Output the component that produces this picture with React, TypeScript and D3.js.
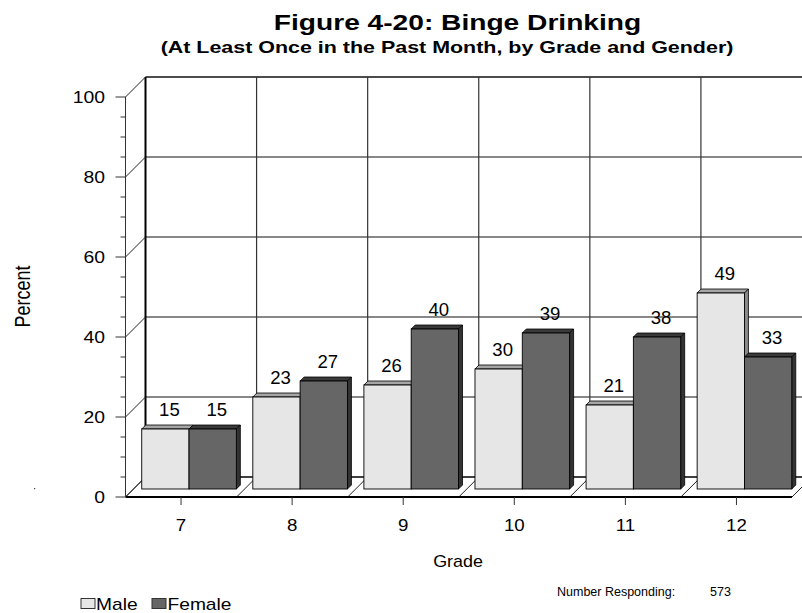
import React from "react";
import * as d3 from "d3";

const grades = ["7", "8", "9", "10", "11", "12"];
const genders = ["Male", "Female"];
const maleValues = [15, 23, 26, 30, 21, 49];
const femaleValues = [15, 27, 40, 39, 38, 33];
const yTicks = [0, 20, 40, 60, 80, 100];
const minorTicks = d3.range(0, 101, 5);

const W = 802;
const H = 613;
const DEPTH = 20; // wall depth offset
const OFF = 8; // bars' offset into the depth
const BD = 4; // bar depth
const FONT = "'Liberation Sans', Arial, sans-serif";

const colors: Record<string, { front: string; top: string; side: string }> = {
  Male: { front: "#e6e6e6", top: "#a6a6a6", side: "#8a8a8a" },
  Female: { front: "#666666", top: "#3a3a3a", side: "#333333" },
};

function SText(props: {
  x: number;
  y: number;
  sx?: number;
  sy?: number;
  rotate?: number;
  anchor?: "start" | "middle" | "end";
  size: number;
  weight?: string;
  children: React.ReactNode;
}) {
  const { x, y, sx = 1, sy = 1, rotate, anchor = "start", size, weight = "normal", children } = props;
  const t = `translate(${x},${y})${rotate ? ` rotate(${rotate})` : ""} scale(${sx},${sy})`;
  return (
    <text transform={t} textAnchor={anchor} fontSize={size} fontWeight={weight} fill="#000">
      {children}
    </text>
  );
}

export default function App() {
  const x = d3.scaleBand<string>().domain(grades).range([125.5, 792]).padding(0);
  const xs = d3
    .scaleBand<string>()
    .domain(genders)
    .range([0, x.bandwidth()])
    .paddingInner(0)
    .paddingOuter(0.174);
  const y = d3.scaleLinear().domain([0, 100]).range([497, 97]);

  const left = x.range()[0];
  const right = x.range()[1];
  const y0 = y(0);
  const y100 = y(100);
  const boundaries = grades.map((g) => x(g)!).concat([right]);

  const data = grades.map((g, i) => ({
    grade: g,
    vals: [
      { gender: "Male", v: maleValues[i] },
      { gender: "Female", v: femaleValues[i] },
    ],
  }));

  const w = xs.bandwidth();

  return (
    <svg
      width={W}
      height={H}
      style={{ position: "absolute", left: 0, top: 0, background: "#fff" }}
      fontFamily={FONT}
    >
      <rect x={0} y={0} width={W} height={H} fill="#fff" />
      {/* Titles */}
      <SText x={457.5} y={30} sx={1.28} anchor="middle" size={22} weight="bold">
        Figure 4-20: Binge Drinking
      </SText>
      <SText x={447} y={53} sx={1.34} anchor="middle" size={16} weight="bold">
        (At Least Once in the Past Month, by Grade and Gender)
      </SText>

      {/* back wall gridlines */}
      {yTicks.slice(1).map((t) => (
        <line
          key={"hg" + t}
          x1={left + DEPTH}
          x2={right + DEPTH}
          y1={y(t) - DEPTH}
          y2={y(t) - DEPTH}
          stroke="#111"
          strokeWidth={t === 100 ? 1.6 : 1.2}
        />
      ))}
      {boundaries.slice(1, -1).map((b, i) => (
        <line
          key={"vg" + i}
          x1={b + DEPTH}
          x2={b + DEPTH}
          y1={y100 - DEPTH}
          y2={y0 - DEPTH}
          stroke="#333"
          strokeWidth={1.2}
        />
      ))}
      {/* back wall left edge */}
      <line x1={left + DEPTH} x2={left + DEPTH} y1={y100 - DEPTH} y2={y0 - DEPTH} stroke="#000" strokeWidth={2} />
      {/* left wall diagonals */}
      {yTicks.map((t) => (
        <line
          key={"ld" + t}
          x1={left}
          y1={y(t)}
          x2={left + DEPTH}
          y2={y(t) - DEPTH}
          stroke="#222"
          strokeWidth={1}
        />
      ))}
      {/* floor */}
      <line x1={left + DEPTH} x2={right + DEPTH} y1={y0 - DEPTH} y2={y0 - DEPTH} stroke="#000" strokeWidth={1.4} />
      {boundaries.map((b, i) => (
        <line key={"fd" + i} x1={b} y1={y0} x2={b + DEPTH} y2={y0 - DEPTH} stroke="#222" strokeWidth={1} />
      ))}

      {/* bars */}
      {data.map((d) => (
        <g key={d.grade}>
          {d.vals.map((b) => {
            const x0 = x(d.grade)! + xs(b.gender)! + OFF;
            const yB = y0 - OFF;
            const yT = y(b.v) - OFF;
            const c = colors[b.gender];
            return (
              <g key={b.gender}>
                <polygon
                  points={`${x0},${yT} ${x0 + BD},${yT - BD} ${x0 + w + BD},${yT - BD} ${x0 + w},${yT}`}
                  fill={c.top}
                  stroke="#000"
                  strokeWidth={0.8}
                  strokeLinejoin="round"
                />
                <polygon
                  points={`${x0 + w},${yT} ${x0 + w + BD},${yT - BD} ${x0 + w + BD},${yB - BD} ${x0 + w},${yB}`}
                  fill={c.side}
                  stroke="#000"
                  strokeWidth={0.8}
                  strokeLinejoin="round"
                />
                <rect x={x0} y={yT} width={w} height={yB - yT} fill={c.front} stroke="#000" strokeWidth={0.9} />
              </g>
            );
          })}
        </g>
      ))}

      {/* front floor line */}
      <line x1={left} x2={right} y1={y0} y2={y0} stroke="#000" strokeWidth={2} />
      {/* front left axis */}
      <line x1={left} x2={left} y1={y100} y2={y0} stroke="#333" strokeWidth={1} />
      {minorTicks.map((t) => (
        <line
          key={"mt" + t}
          x1={t % 20 === 0 ? left - 10 : left - 5}
          x2={left}
          y1={y(t)}
          y2={y(t)}
          stroke="#333"
          strokeWidth={1}
        />
      ))}
      {yTicks.map((t) => (
        <SText key={"yl" + t} x={105} y={y(t) + 6} sx={1.14} anchor="end" size={17}>
          {t}
        </SText>
      ))}

      {/* x ticks */}
      {grades.map((g) => {
        const cx = x(g)! + x.bandwidth() / 2;
        return (
          <g key={"xt" + g}>
            <line x1={cx} x2={cx} y1={y0} y2={y0 + 8} stroke="#333" strokeWidth={1} />
            <SText x={cx} y={531} sx={1.1} anchor="middle" size={17}>
              {g}
            </SText>
          </g>
        );
      })}

      {/* bar labels */}
      {data.map((d) =>
        d.vals.map((b) => {
          const x0 = x(d.grade)! + xs(b.gender)! + OFF;
          return (
            <SText
              key={"bl" + d.grade + b.gender}
              x={x0 + w / 2 + 4}
              y={y(b.v) - OFF - 13}
              sx={1.06}
              anchor="middle"
              size={17.5}
            >
              {b.v}
            </SText>
          );
        })
      )}

      {/* axis titles */}
      <SText x={29.5} y={296.5} rotate={-90} sy={1.22} anchor="middle" size={18}>
        Percent
      </SText>
      <SText x={458} y={567} sx={1.12} anchor="middle" size={16}>
        Grade
      </SText>

      {/* stray dot */}
      <rect x={34} y={488} width={1.2} height={1.2} fill="#444" />

      {/* legend */}
      <rect x={81} y={598.5} width={14} height={10} fill={colors.Male.front} stroke="#333" strokeWidth={1} />
      <SText x={96} y={609.5} sx={1.2} size={16}>
        Male
      </SText>
      <rect x={152} y={598.5} width={14} height={10} fill={colors.Female.front} stroke="#333" strokeWidth={1} />
      <SText x={167.5} y={609.5} sx={1.2} size={16}>
        Female
      </SText>

      {/* note */}
      <text x={557} y={596} fontSize={12.5} fill="#000">
        Number Responding:
      </text>
      <text x={710} y={596} fontSize={12.5} fill="#000">
        573
      </text>
    </svg>
  );
}
